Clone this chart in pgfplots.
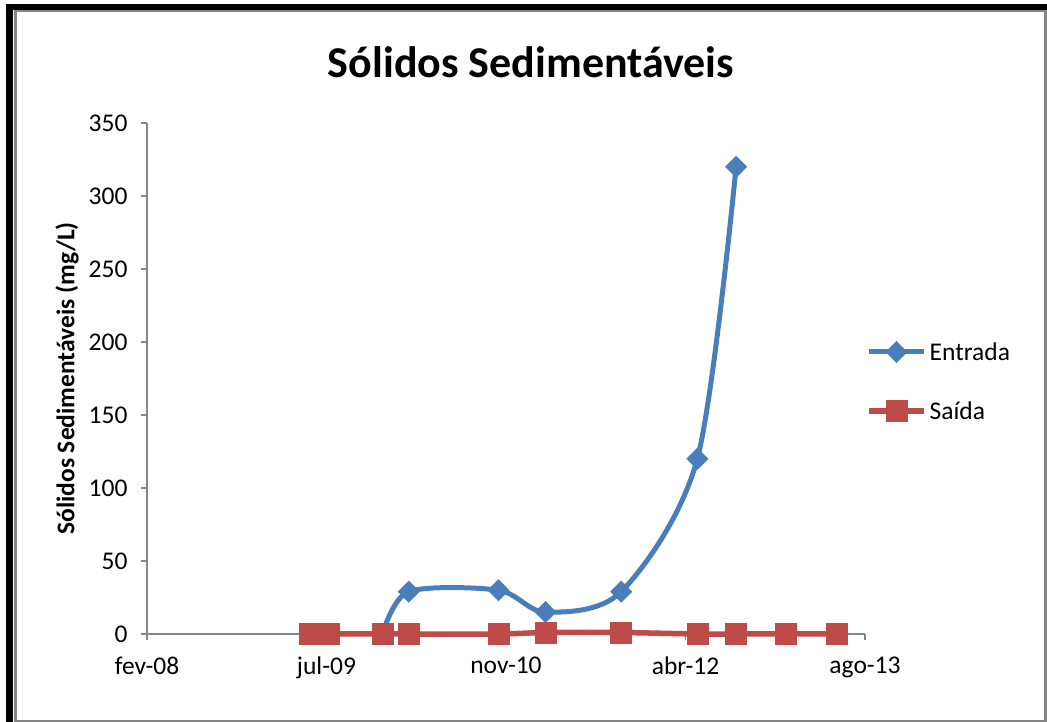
\documentclass[border=0pt]{standalone}
\usepackage{pgfplots}
\pgfplotsset{compat=1.18}
\usepackage{fontspec}
\setmainfont{Carlito}
\definecolor{axgray}{HTML}{868686}
\definecolor{sblue}{HTML}{4A7EBB}
\definecolor{sred}{HTML}{BE4B48}
\begin{document}
\begin{tikzpicture}[x=1pt,y=1pt]
\useasboundingbox (0,0) rectangle (1047,722);
\fill[white] (0,0) rectangle (1047,722);
\fill[black] (6,712) rectangle (1047,718);
\fill[black] (6,0) rectangle (13,718);
\draw[axgray, line width=2.5pt] (15.5,1.2) rectangle (1045.5,711);
\node[font=\fontsize{44}{52}\selectfont\bfseries] at (531,660) {Sólidos Sedimentáveis};
\begin{axis}[
  at={(147pt,88pt)}, anchor=south west,
  scale only axis, width=718pt, height=511pt,
  xmin=39500, xmax=41500, ymin=0, ymax=350,
  clip=false,
  scaled x ticks=false, scaled y ticks=false,
  axis lines=left,
  axis line style={-, axgray, line width=1.3pt},
  tick style={axgray, line width=1.3pt},
  tick align=outside, major tick length=6pt,
  xtick={39500,40000,40500,41000,41500},
  xticklabels={fev-08,jul-09,nov-10,abr-12,ago-13},
  ytick={0,50,...,350},
  /pgf/number format/assume math mode=true,
  ticklabel style={font=\fontsize{25.5}{30}\selectfont, black},
  xticklabel style={yshift=-13pt},
  yticklabel style={xshift=-10pt},
  ylabel={Sólidos Sedimentáveis (mg/L)},
  ylabel style={font=\fontsize{25.5}{30}\selectfont\bfseries, at={(axis description cs:-0.1114,0.5)}, anchor=center},
  legend cell align=left,
  legend style={at={(1.0014,0.494)}, anchor=west, draw=none, fill=none,
    font=\fontsize{25.5}{30}\selectfont, row sep=34pt, inner sep=0pt,
    nodes={inner sep=3pt}},
  legend image code/.code={\draw[#1, mark repeat=2, mark phase=2] plot coordinates {(0pt,0pt) (27.5pt,0pt) (55pt,0pt)};},
]
\addplot[sblue, line width=5pt, smooth, mark=square*, mark size=7.5pt,
  mark options={rotate=45, fill=sblue, draw=sblue, line width=0.5pt, solid}]
  coordinates {(40156,0) (40229,29) (40479,30) (40610,15) (40821,29) (41033,120) (41141,320)};
\addlegendentry{Entrada}
\addplot[sred, line width=5.5pt, smooth, mark=square*, mark size=10.5pt,
  mark options={fill=sred, draw=sred, line width=0.5pt, solid}]
  coordinates {(39953,0) (40006,0) (40156,0) (40229,0) (40479,0) (40610,1) (40821,1) (41033,0) (41141,0) (41280,0) (41422,0)};
\addlegendentry{Saída}
\end{axis}
\end{tikzpicture}
\end{document}
